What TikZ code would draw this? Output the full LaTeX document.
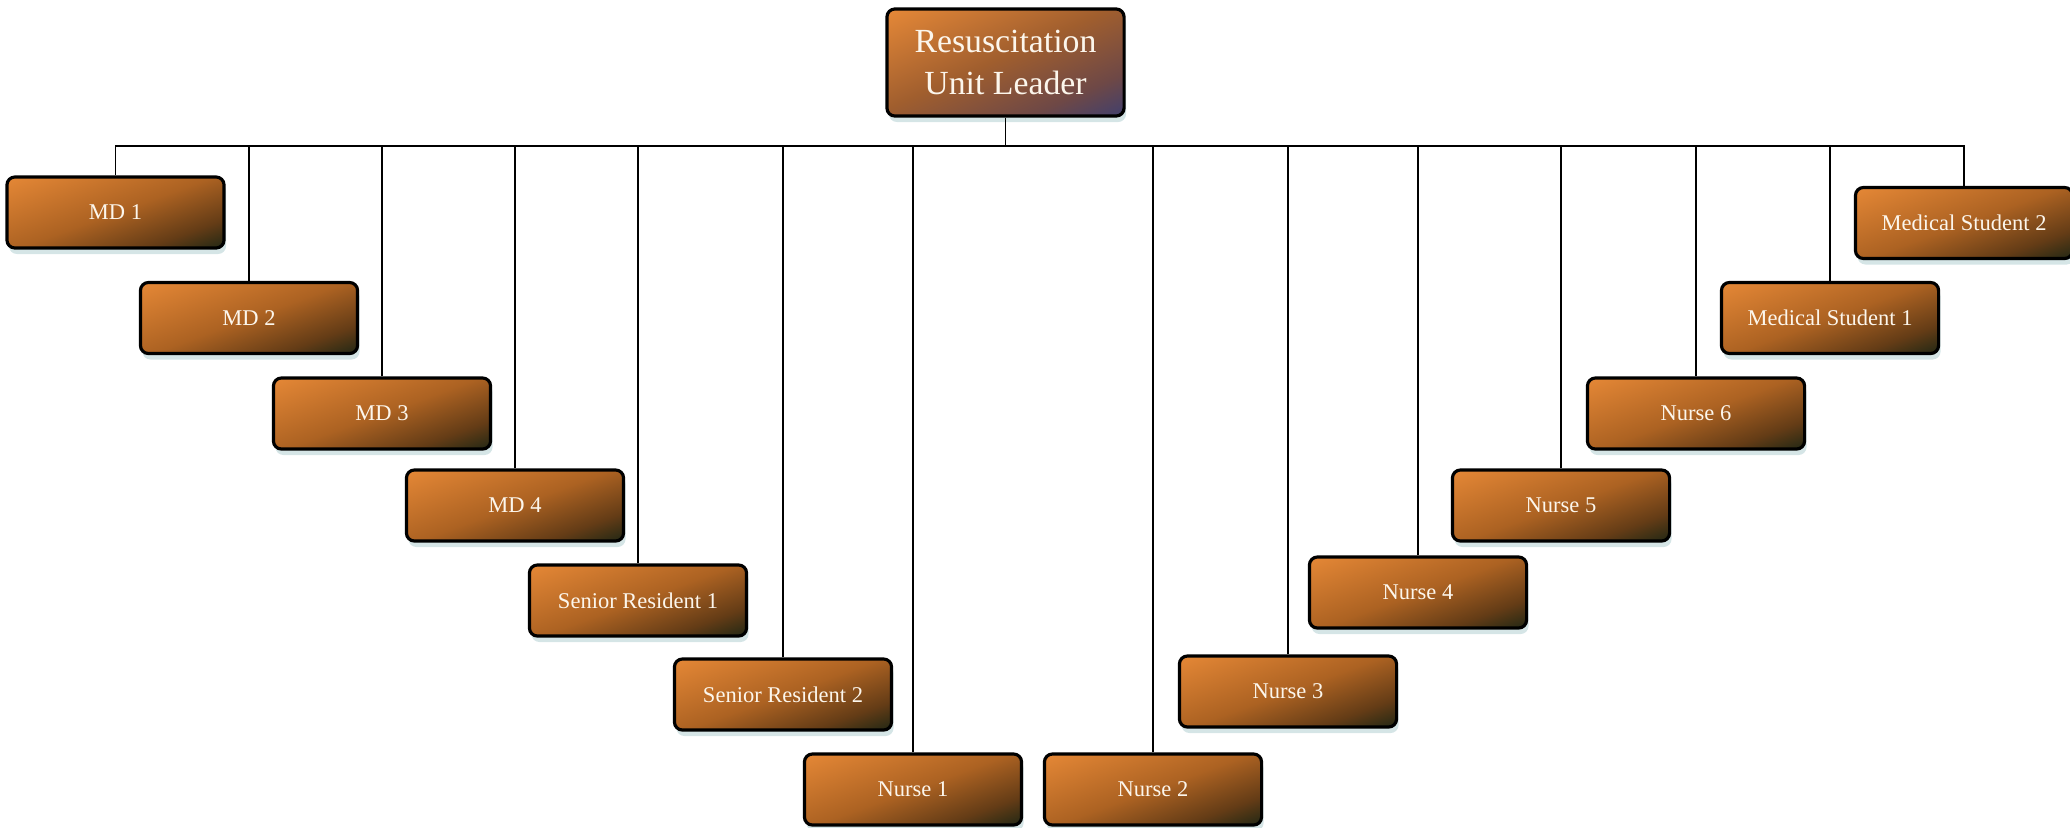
\documentclass[tikz,border=0pt]{standalone}
\usepackage{fontspec}
\setmainfont{Liberation Serif}
\usetikzlibrary{shadows}
\definecolor{boxorange}{RGB}{234,139,56}
\definecolor{boxbrown}{RGB}{172,98,34}
\definecolor{boxdeep}{RGB}{100,60,22}
\definecolor{boxdark}{RGB}{28,38,20}
\definecolor{leadmid}{RGB}{160,94,46}
\definecolor{leaddeep}{RGB}{110,72,70}
\definecolor{leaddark}{RGB}{58,62,115}
\definecolor{glow}{RGB}{195,218,220}
\definecolor{cream}{RGB}{252,246,236}
\pgfdeclareverticalshading{membershade}{100bp}{color(0bp)=(boxdark); color(17bp)=(boxdark);
    color(30bp)=(boxdeep); color(50bp)=(boxbrown); color(85bp)=(boxorange); color(100bp)=(boxorange)}
\pgfdeclareverticalshading{leadershade}{100bp}{color(0bp)=(leaddark); color(15bp)=(leaddark);
    color(30bp)=(leaddeep); color(52bp)=(leadmid); color(85bp)=(boxorange); color(100bp)=(boxorange)}

\begin{document}
\begin{tikzpicture}[
    x=0.01cm, y=-0.01cm,
    member/.style={rectangle, draw=black, line width=0.9pt, rounded corners=0.08cm,
        minimum width=2.17cm, minimum height=0.71cm, inner sep=0pt, align=center,
        text=cream, font=\fontsize{6.4}{7.5}\selectfont,
        shading=membershade, shading angle=20,
        drop shadow={fill=glow, opacity=0.7, shadow xshift=0.02cm, shadow yshift=-0.06cm}},
    leader/.style={member, minimum width=2.37cm, minimum height=1.07cm,
        font=\fontsize{9.6}{12}\selectfont, shading=leadershade, shading angle=24},
    link/.style={draw=black, line width=0.55pt}
]
    \useasboundingbox (0,0) rectangle (2070,827);

    \node[leader] (lead) at (1005.5,62.5) {Resuscitation\\Unit Leader};
    \coordinate (bus) at (1005.5,146);

    % left wing
    \node[member] (md1) at (115.5,212.5) {MD 1};
    \node[member] (md2) at (249,318) {MD 2};
    \node[member] (md3) at (382,413.5) {MD 3};
    \node[member] (md4) at (515,505.5) {MD 4};
    \node[member] (sres1) at (638,600.5) {Senior Resident 1};
    \node[member] (sres2) at (783,694.5) {Senior Resident 2};
    \node[member] (nurse1) at (913,789.5) {Nurse 1};

    % right wing
    \node[member] (nurse2) at (1153,789.5) {Nurse 2};
    \node[member] (nurse3) at (1288,691.5) {Nurse 3};
    \node[member] (nurse4) at (1418,592.5) {Nurse 4};
    \node[member] (nurse5) at (1561,505.5) {Nurse 5};
    \node[member] (nurse6) at (1696,413.5) {Nurse 6};
    \node[member] (mstud1) at (1830,318) {Medical Student 1};
    \node[member] (mstud2) at (1964,223) {Medical Student 2};

    \draw[link] (lead) -- (bus);
    \draw[link] (md1.north) |- (bus);
    \draw[link] (md2.north) |- (bus);
    \draw[link] (md3.north) |- (bus);
    \draw[link] (md4.north) |- (bus);
    \draw[link] (sres1.north) |- (bus);
    \draw[link] (sres2.north) |- (bus);
    \draw[link] (nurse1.north) |- (bus);
    \draw[link] (nurse2.north) |- (bus);
    \draw[link] (nurse3.north) |- (bus);
    \draw[link] (nurse4.north) |- (bus);
    \draw[link] (nurse5.north) |- (bus);
    \draw[link] (nurse6.north) |- (bus);
    \draw[link] (mstud1.north) |- (bus);
    \draw[link] (mstud2.north) |- (bus);
\end{tikzpicture}
\end{document}
